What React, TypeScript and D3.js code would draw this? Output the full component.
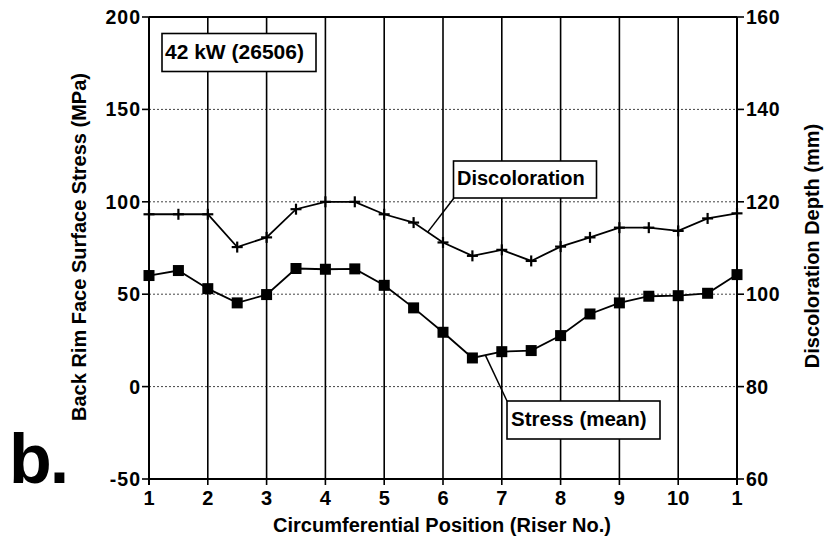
import React from "react";
import * as d3 from "d3";

// Riser positions (half-steps around the rim, 1 → 10 → back to 1)
const positions = [1, 1.5, 2, 2.5, 3, 3.5, 4, 4.5, 5, 5.5, 6, 6.5, 7, 7.5, 8, 8.5, 9, 9.5, 10, 10.5, 11];

// Mean back rim face surface stress (MPa)
const stressMean = [60.1, 62.8, 53.0, 45.3, 49.8, 63.9, 63.5, 63.7, 54.8, 42.6, 29.4, 15.5, 18.9, 19.5, 27.6, 39.3, 45.3, 48.9, 49.2, 50.5, 60.6];

// Discoloration depth (mm)
const discoloration = [117.3, 117.3, 117.3, 110.2, 112.3, 118.4, 120.0, 120.0, 117.3, 115.5, 111.2, 108.3, 109.6, 107.2, 110.3, 112.3, 114.4, 114.4, 113.7, 116.4, 117.5];

const xTickValues = [1, 2, 3, 4, 5, 6, 7, 8, 9, 10, 11];
const xTickLabels = ["1", "2", "3", "4", "5", "6", "7", "8", "9", "10", "1"];
const stressTicks = [-50, 0, 50, 100, 150, 200];
const depthTicks = [60, 80, 100, 120, 140, 160];
const dottedGrid = [0, 50, 100, 150];

const W = 824;
const H = 542;
const FONT = "'Liberation Sans', Arial, Helvetica, sans-serif";

export default function App() {
  const x = d3.scaleLinear().domain([1, 11]).range([149, 737]);
  const yL = d3.scaleLinear().domain([-50, 200]).range([479, 17]);
  const yR = d3.scaleLinear().domain([60, 160]).range([479, 17]);

  const stressLine = d3
    .line<number>()
    .x((_, i) => x(positions[i]))
    .y((d) => yL(d));
  const discLine = d3
    .line<number>()
    .x((_, i) => x(positions[i]))
    .y((d) => yR(d));

  const [x0, x1] = x.range();
  const [yBot, yTop] = yL.range();

  // leader anchor points on the curves
  const interp = (arr: number[], p: number) => {
    const i = d3.bisectRight(positions, p) - 1;
    const t = (p - positions[i]) / (positions[i + 1] - positions[i]);
    return arr[i] + t * (arr[i + 1] - arr[i]);
  };
  const discAnchorPos = 5.74;
  const stressAnchorPos = 6.72;

  const sq = 11;
  const cr = 5.5;

  return (
    <svg
      width={W}
      height={H}
      style={{ position: "absolute", left: 0, top: 0, background: "#fff" }}
      fontFamily={FONT}
    >
      <rect width={W} height={H} fill="#fff" />

      {/* dotted horizontal grid */}
      {dottedGrid.map((v) => (
        <line
          key={"h" + v}
          x1={x0}
          x2={x1}
          y1={yL(v)}
          y2={yL(v)}
          stroke="#444"
          strokeWidth={1}
          strokeDasharray="2,2"
        />
      ))}

      {/* vertical grid at each riser */}
      {xTickValues.map((v) => (
        <line
          key={"v" + v}
          x1={x(v)}
          x2={x(v)}
          y1={yTop}
          y2={yBot + 6}
          stroke="#000"
          strokeWidth={v === 1 || v === 11 ? 2 : 1.6}
        />
      ))}

      {/* frame top & bottom */}
      <line x1={x0} x2={x1} y1={yTop} y2={yTop} stroke="#000" strokeWidth={1.8} />
      <line x1={x0} x2={x1} y1={yBot} y2={yBot} stroke="#000" strokeWidth={1.8} />

      {/* left axis */}
      {stressTicks.map((v) => (
        <g key={"l" + v}>
          <line x1={x0 - 7} x2={x0} y1={yL(v)} y2={yL(v)} stroke="#000" strokeWidth={1.6} />
          <text
            x={141}
            y={yL(v)}
            dy="0.36em"
            textAnchor="end"
            fontSize={19.5}
            fontWeight="bold"
            letterSpacing={1}
          >
            {v}
          </text>
        </g>
      ))}

      {/* right axis */}
      {depthTicks.map((v) => (
        <g key={"r" + v}>
          <line x1={x1} x2={x1 + 7} y1={yR(v)} y2={yR(v)} stroke="#000" strokeWidth={1.6} />
          <text
            x={746}
            y={yR(v)}
            dy="0.36em"
            textAnchor="start"
            fontSize={19.5}
            fontWeight="bold"
            letterSpacing={0.5}
          >
            {v}
          </text>
        </g>
      ))}

      {/* bottom tick labels */}
      {xTickValues.map((v, i) => (
        <text
          key={"xt" + v}
          x={x(v)}
          y={505}
          textAnchor="middle"
          fontSize={20}
          fontWeight="bold"
        >
          {xTickLabels[i]}
        </text>
      ))}

      {/* axis titles */}
      <text
        transform={`translate(86,247) rotate(-90)`}
        textAnchor="middle"
        fontSize={20}
        fontWeight="bold"
      >
        Back Rim Face Surface Stress (MPa)
      </text>
      <text
        transform={`translate(819,246) rotate(-90)`}
        textAnchor="middle"
        fontSize={20}
        fontWeight="bold"
      >
        Discoloration Depth (mm)
      </text>
      <text x={442} y={532} textAnchor="middle" fontSize={20} fontWeight="bold">
        Circumferential Position (Riser No.)
      </text>

      {/* discoloration series */}
      <path d={discLine(discoloration) || ""} fill="none" stroke="#000" strokeWidth={1.8} />
      {discoloration.map((d, i) => (
        <g key={"dc" + i} stroke="#000" strokeWidth={2.2}>
          <line x1={x(positions[i]) - cr} x2={x(positions[i]) + cr} y1={yR(d)} y2={yR(d)} />
          <line x1={x(positions[i])} x2={x(positions[i])} y1={yR(d) - cr} y2={yR(d) + cr} />
        </g>
      ))}

      {/* stress series */}
      <path d={stressLine(stressMean) || ""} fill="none" stroke="#000" strokeWidth={1.8} />
      {stressMean.map((d, i) => (
        <rect
          key={"st" + i}
          x={x(positions[i]) - sq / 2}
          y={yL(d) - sq / 2}
          width={sq}
          height={sq}
          fill="#000"
        />
      ))}

      {/* run label */}
      <rect x={162} y={33.5} width={154} height={38} fill="#fff" stroke="#000" strokeWidth={1.6} />
      <text x={165} y={59} fontSize={21} fontWeight="bold">
        42 kW (26506)
      </text>

      {/* discoloration callout */}
      <line
        x1={x(discAnchorPos)}
        y1={yR(interp(discoloration, discAnchorPos))}
        x2={454}
        y2={198}
        stroke="#000"
        strokeWidth={1.5}
      />
      <rect x={453.5} y={161} width={143} height={37} fill="#fff" stroke="#000" strokeWidth={1.6} />
      <text x={457} y={185} fontSize={20} fontWeight="bold">
        Discoloration
      </text>

      {/* stress callout */}
      <line
        x1={x(stressAnchorPos)}
        y1={yL(interp(stressMean, stressAnchorPos))}
        x2={507}
        y2={401}
        stroke="#000"
        strokeWidth={1.5}
      />
      <rect x={507} y={401} width={153} height={38} fill="#fff" stroke="#000" strokeWidth={1.6} />
      <text x={511} y={425.5} fontSize={20.5} fontWeight="bold">
        Stress (mean)
      </text>

      {/* panel letter */}
      <text x={9} y={483} fontSize={70} fontWeight="bold" letterSpacing={-2}>
        b.
      </text>
    </svg>
  );
}
